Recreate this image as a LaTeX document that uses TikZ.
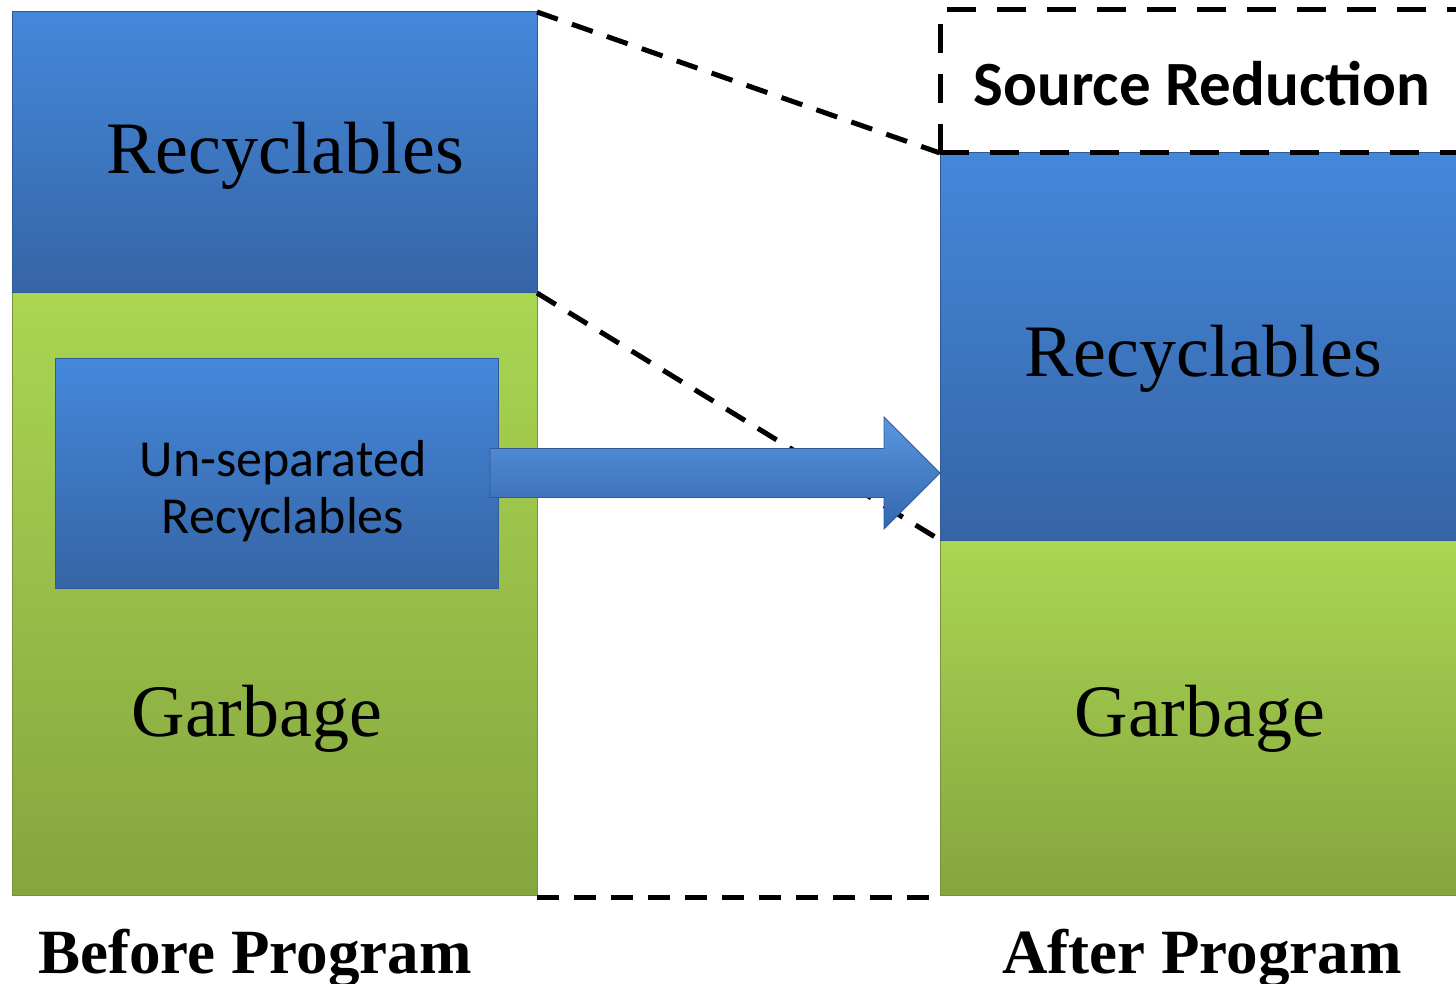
\documentclass[tikz,border=0pt]{standalone}
\usepackage{fontspec}
\setmainfont{Liberation Serif}
\newfontfamily\calfont{Carlito}
\usetikzlibrary{calc}
\definecolor{bluetop}{HTML}{4488DA}
\definecolor{bluebot}{HTML}{3664A6}
\definecolor{blueedge}{HTML}{2F5A96}
\definecolor{arrowtop}{HTML}{5A97DF}
\definecolor{arrowmid}{HTML}{3D78C5}
\definecolor{arrowbot}{HTML}{3466AE}
\definecolor{greentop}{HTML}{AAD652}
\definecolor{greenbot}{HTML}{85A53F}
\definecolor{greenedge}{HTML}{76923A}
\begin{document}
\begin{tikzpicture}[x=1pt,y=-1pt,
  bluebox/.style={draw=blueedge, line width=1pt, top color=bluetop, bottom color=bluebot,
    inner sep=0pt, outer sep=0pt},
  greenbox/.style={draw=greenedge, line width=1pt, top color=greentop, bottom color=greenbot,
    inner sep=0pt, outer sep=0pt},
  bigtext/.style={font=\fontsize{74}{80}\selectfont, inner sep=0pt},
  captext/.style={font=\bfseries\fontsize{63}{68}\selectfont, inner sep=0pt},
  dashline/.style={line width=5pt, dash pattern=on 22pt off 15pt},
  dashbox/.style={line width=5pt, dash pattern=on 29pt off 21pt}]
\useasboundingbox (0,0) rectangle (1456,984);
\clip (0,0) rectangle (1456,984);

% left column: before program
\node[greenbox, minimum width=525pt, minimum height=602pt] (garbL) at (274.5,594) {};
\node[bluebox, minimum width=525pt, minimum height=281pt] (recL) at (274.5,152.5) {};
\node[bluebox, minimum width=443pt, minimum height=230pt] (unsep) at (276.5,473) {};
\node[bigtext] (recLt) at (285,156) {Recyclables};
\node[bigtext] (garbLt) at (257,719) {Garbage};
\node[font=\calfont\fontsize{52}{57}\selectfont, align=center, inner sep=0pt] (unsept) at (283,491)
  {Un-separated\\Recyclables};

% right column: after program
\node[greenbox, minimum width=540pt, minimum height=355pt] (garbR) at (1210,717.5) {};
\node[bluebox, minimum width=540pt, minimum height=387pt] (recR) at (1210,346.5) {};
\node[bigtext] (recRt) at (1203,359) {Recyclables};
\node[bigtext] (garbRt) at (1200,719) {Garbage};

% source reduction box
\coordinate (srSW) at (recR.north west);
\coordinate (srNW) at ($(srSW)+(0,-143)$);
\coordinate (srNE) at ($(srNW)+(540,0)$);
\coordinate (srSE) at ($(srSW)+(540,0)$);
\draw[dashbox] (srSW) -- (srNW) -- (srNE);
\draw[dashbox] (srSW) -- (srSE);
\node[font=\calfont\bfseries\fontsize{63}{68}\selectfont, inner sep=0pt] (srt) at (1202,84) {Source Reduction};

% projection lines
\draw[dashline] (recL.north east) -- (srSW);
\draw[dashline] (recL.south east) -- (recR.south west);
\coordinate (botL) at ($(garbL.south east)+(0,2)$);
\coordinate (botR) at ($(garbR.south west)+(-5,2)$);
\draw[dashline] (botL) -- (botR);

% block arrow from the un-separated recyclables to the right column
\coordinate (tip) at (recR.west |- unsep.east);
\coordinate (base) at ($(unsep.east)+(-8,0)$);
\shade[top color=arrowtop, middle color=arrowmid, bottom color=arrowbot, draw=blueedge, line width=0.8pt]
  ($(base)+(0,-24.5)$) -- ($(tip)+(-56,-24.5)$) -- ($(tip)+(-56,-56)$) -- (tip)
  -- ($(tip)+(-56,56)$) -- ($(tip)+(-56,24.5)$) -- ($(base)+(0,24.5)$) -- cycle;

% captions
\node[captext] (capL) at (255,958) {Before Program};
\node[captext] (capR) at (1202,958) {After Program};
\end{tikzpicture}
\end{document}
